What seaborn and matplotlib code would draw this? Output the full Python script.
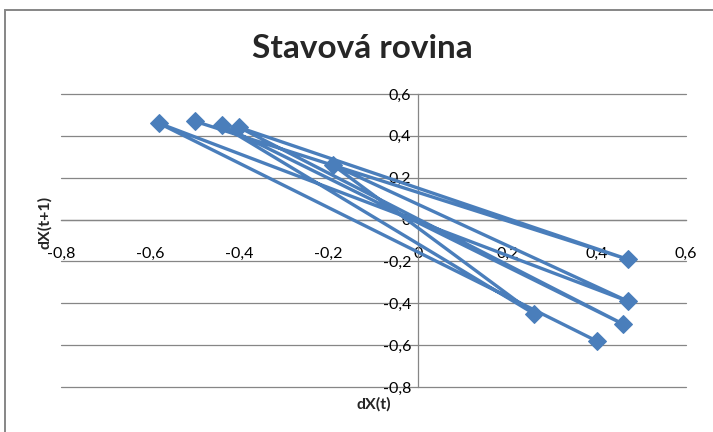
import matplotlib
matplotlib.use("Agg")
import matplotlib.pyplot as plt
from matplotlib.patches import Rectangle
from matplotlib.ticker import FuncFormatter
import seaborn as sns
import pandas as pd

# State-plane trajectory: successive (dX(t), dX(t+1)) pairs in drawing order
dx_t = [-0.50, 0.47, -0.40, 0.46, -0.44, 0.26, -0.19, 0.47, -0.58, 0.40]
dx_t1 = [0.47, -0.19, 0.44, -0.50, 0.45, -0.45, 0.26, -0.39, 0.46, -0.58]

title = "Stavová rovina"
x_label = "dX(t)"
y_label = "dX(t+1)"
tick_values = [-0.8, -0.6, -0.4, -0.2, 0.0, 0.2, 0.4, 0.6]

line_color = "#4a7ebb"
grid_color = "#868686"

sns.set_theme(style="white")
plt.rcParams["font.family"] = ["Lato", "DejaVu Sans"]

fig = plt.figure(figsize=(7.13, 4.32), dpi=100)
fig.patch.set_facecolor("white")

# chart-area frame
fig.add_artist(Rectangle((5 / 713, -0.05), 1.2, 1 - 10 / 432 + 0.05,
                         transform=fig.transFigure, fill=False,
                         edgecolor=grid_color, linewidth=1.4))

ax = fig.add_axes([60.8 / 713, 1 - 387 / 432, 625.1 / 713, 293 / 432])
ax.set_facecolor("none")

df = pd.DataFrame({"x": dx_t, "y": dx_t1})
sns.lineplot(data=df, x="x", y="y", sort=False, estimator=None, ax=ax,
             color=line_color, linewidth=2.4, marker="D", markersize=9.5,
             markeredgecolor=line_color, markerfacecolor=line_color,
             zorder=3)

ax.set_xlim(-0.8, 0.6)
ax.set_ylim(-0.8, 0.6)
ax.set_xticks(tick_values)
ax.set_yticks(tick_values)

fmt = FuncFormatter(lambda v, _: ("0" if abs(v) < 1e-9 else f"{v:.1f}".replace(".", ",")))
ax.xaxis.set_major_formatter(fmt)
ax.yaxis.set_major_formatter(fmt)

# axes crossing at the origin
for side in ("top", "right"):
    ax.spines[side].set_visible(False)
ax.spines["left"].set_position(("data", 0))
ax.spines["bottom"].set_position(("data", 0))
for side in ("left", "bottom"):
    ax.spines[side].set_color(grid_color)
    ax.spines[side].set_linewidth(0.9)
    ax.spines[side].set_zorder(1)

ax.yaxis.grid(True, color=grid_color, linewidth=0.9)
ax.xaxis.grid(False)
ax.set_axisbelow(True)
for gl in ax.get_ygridlines():
    gl.set_clip_on(False)

ax.tick_params(axis="x", direction="out", length=4, width=0.9, color=grid_color,
               labelsize=11.5, labelcolor="black", pad=16)
ax.tick_params(axis="y", direction="out", length=0, width=0.9, color=grid_color,
               labelsize=11.5, labelcolor="black", pad=5)

ax.set_xlabel("")
ax.set_ylabel("")
fig.text(374 / 713, 1 - 404 / 432, x_label, ha="center", va="center",
         fontsize=11.5, fontweight="bold")
fig.text(45 / 713, 1 - 222 / 432, y_label, ha="center", va="center",
         rotation=90, fontsize=11.5, fontweight="bold")
fig.text(362 / 713, 1 - 48 / 432, title, ha="center", va="center",
         fontsize=24, fontweight="bold")

fig.savefig("out.png", dpi=100, facecolor="white")
